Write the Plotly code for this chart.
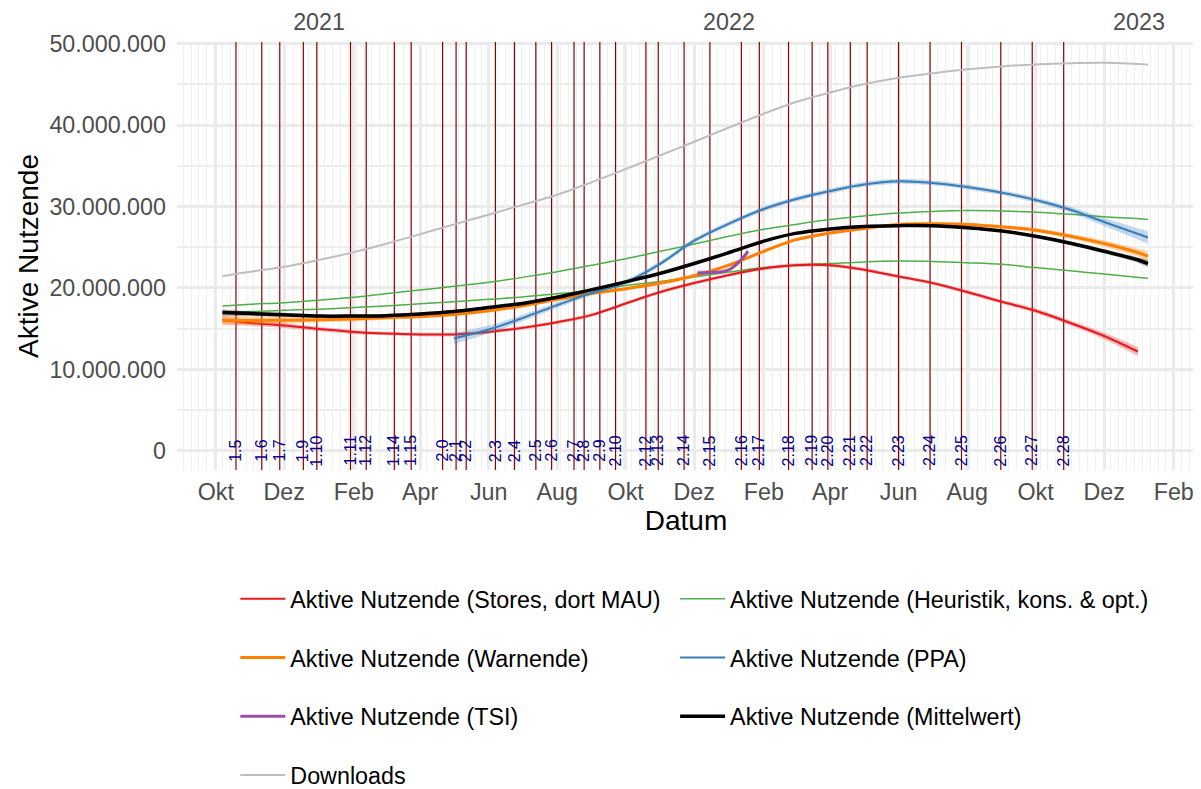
import plotly.graph_objects as go

# ---------------- data (values in millions) ----------------
dates = ["2020-10-07", "2020-11-01", "2020-12-01", "2021-01-01", "2021-02-01", "2021-03-01",
         "2021-04-01", "2021-05-01", "2021-06-01", "2021-07-01", "2021-08-01", "2021-09-01",
         "2021-10-01", "2021-11-01", "2021-12-01", "2022-01-01", "2022-02-01", "2022-03-01",
         "2022-04-01", "2022-05-01", "2022-06-01", "2022-07-01", "2022-08-01", "2022-09-01",
         "2022-10-01", "2022-11-01", "2022-12-01", "2023-01-01", "2023-01-09"]

downloads = [21.45, 22.0, 22.6, 23.45, 24.4, 25.4, 26.6, 27.8, 29.0, 30.2, 31.45, 33.0, 34.6, 36.3,
             37.95, 39.7, 41.4, 42.8, 44.0, 45.0, 45.8, 46.35, 46.85, 47.2, 47.45, 47.6, 47.65, 47.5, 47.4]

warnende = [16.0, 16.0, 16.05, 16.1, 16.2, 16.35, 16.5, 16.75, 17.2, 17.8, 18.6, 19.35, 19.9, 20.6,
            21.5, 22.8, 24.5, 25.9, 26.75, 27.3, 27.8, 27.9, 27.8, 27.5, 27.1, 26.35, 25.45, 24.3, 23.9]
warnende_se = [0.65, 0.5, 0.4, 0.32, 0.28, 0.25, 0.22, 0.2, 0.2, 0.2, 0.2, 0.2, 0.2, 0.2, 0.2, 0.2,
               0.2, 0.2, 0.2, 0.2, 0.2, 0.2, 0.2, 0.22, 0.25, 0.3, 0.38, 0.5, 0.6]

mittelwert = [17.0, 16.85, 16.7, 16.55, 16.55, 16.6, 16.8, 17.1, 17.6, 18.1, 18.85, 19.8, 20.75, 21.8,
              23.0, 24.35, 25.75, 26.7, 27.25, 27.55, 27.65, 27.65, 27.4, 27.0, 26.35, 25.5, 24.5, 23.4, 23.0]
mittelwert_se = [0.4, 0.3, 0.25, 0.2, 0.18, 0.15, 0.15, 0.15, 0.15, 0.15, 0.15, 0.15, 0.15, 0.15, 0.15,
                 0.15, 0.15, 0.15, 0.15, 0.15, 0.15, 0.15, 0.15, 0.15, 0.17, 0.2, 0.25, 0.35, 0.45]

heuristik_opt = [17.8, 18.0, 18.2, 18.5, 18.85, 19.3, 19.75, 20.2, 20.7, 21.3, 22.0, 22.8, 23.6, 24.5,
                 25.4, 26.35, 27.2, 27.8, 28.4, 28.85, 29.2, 29.4, 29.5, 29.45, 29.3, 29.05, 28.75, 28.5, 28.4]
heuristik_kons = [17.0, 17.1, 17.25, 17.4, 17.6, 17.8, 18.05, 18.3, 18.6, 18.9, 19.3, 19.7, 20.3, 20.8,
                  21.35, 21.95, 22.5, 22.8, 23.0, 23.2, 23.3, 23.25, 23.1, 22.9, 22.5, 22.1, 21.7, 21.3, 21.2]

stores_dates = dates[:27] + ["2022-12-31"]
stores = [16.1, 15.7, 15.4, 14.95, 14.6, 14.4, 14.3, 14.3, 14.6, 15.1, 15.8, 16.7, 18.1, 19.5, 20.6,
          21.6, 22.4, 22.8, 22.8, 22.25, 21.4, 20.6, 19.5, 18.3, 17.2, 15.7, 14.1, 12.2]
stores_se = [0.5, 0.35, 0.3, 0.25, 0.25, 0.22, 0.22, 0.22, 0.22, 0.22, 0.22, 0.22, 0.22, 0.22, 0.22,
             0.22, 0.22, 0.22, 0.22, 0.22, 0.22, 0.22, 0.25, 0.25, 0.28, 0.32, 0.4, 0.55]

ppa_dates = dates[7:]
ppa = [13.8, 14.9, 16.3, 17.9, 19.4, 20.7, 23.0, 25.8, 27.9, 29.7, 30.9, 31.9, 32.7, 33.1, 32.9, 32.4,
       31.7, 30.8, 29.6, 28.1, 26.6, 26.2]
ppa_se = [0.7, 0.5, 0.4, 0.35, 0.3, 0.3, 0.3, 0.3, 0.3, 0.3, 0.3, 0.3, 0.3, 0.3, 0.3, 0.3, 0.3, 0.32,
          0.38, 0.5, 0.7, 0.8]

tsi_dates = ["2021-12-04", "2021-12-15", "2021-12-26", "2022-01-02", "2022-01-06", "2022-01-12", "2022-01-18"]
tsi = [21.85, 21.9, 22.0, 22.3, 22.7, 23.5, 24.5]
tsi_se = [0.35, 0.25, 0.2, 0.2, 0.22, 0.3, 0.45]

versions = ["1.5", "1.6", "1.7", "1.9", "1.10", "1.11", "1.12", "1.14", "1.15", "2.0", "2.1", "2.2",
            "2.3", "2.4", "2.5", "2.6", "2.7", "2.8", "2.9", "2.10", "2.12", "2.13", "2.14", "2.15",
            "2.16", "2.17", "2.18", "2.19", "2.20", "2.21", "2.22", "2.23", "2.24", "2.25", "2.26",
            "2.27", "2.28"]
version_dates = ["2020-10-19", "2020-11-11", "2020-11-27", "2020-12-18", "2020-12-30", "2021-01-29",
                 "2021-02-12", "2021-03-09", "2021-03-24", "2021-04-21", "2021-05-03", "2021-05-12",
                 "2021-06-07", "2021-06-24", "2021-07-13", "2021-07-27", "2021-08-16", "2021-08-25",
                 "2021-09-08", "2021-09-22", "2021-10-19", "2021-10-30", "2021-11-22", "2021-12-15",
                 "2022-01-12", "2022-01-28", "2022-02-23", "2022-03-16", "2022-03-30", "2022-04-19",
                 "2022-05-04", "2022-06-01", "2022-06-29", "2022-07-27", "2022-08-31", "2022-09-28",
                 "2022-10-26"]

month_ticks = ["2020-10-01", "2020-12-01", "2021-02-01", "2021-04-01", "2021-06-01", "2021-08-01",
               "2021-10-01", "2021-12-01", "2022-02-01", "2022-04-01", "2022-06-01", "2022-08-01",
               "2022-10-01", "2022-12-01", "2023-02-01"]
month_labels = ["Okt", "Dez", "Feb", "Apr", "Jun", "Aug", "Okt", "Dez", "Feb", "Apr", "Jun", "Aug",
                "Okt", "Dez", "Feb"]
year_ticks = ["2021-01-01", "2022-01-01", "2023-01-01"]
year_labels = ["2021", "2022", "2023"]
y_ticks = [0, 10_000_000, 20_000_000, 30_000_000, 40_000_000, 50_000_000]

X_RANGE = ["2020-08-27 12:00", "2023-02-19 22:00"]
Y_RANGE = [-2.35e6, 50.2e6]
M = 1e6
FONT = "Liberation Sans, Arial, sans-serif"

RED, ORANGE, PURPLE, GREEN, BLUE, BLACK, GREY = "#E41A1C", "#FF7F00", "#984EA3", "#4DAF4A", "#377EB8", "#000000", "#BEBEBE"


def rgba(hexc, a):
    h = hexc.lstrip("#")
    return f"rgba({int(h[0:2], 16)},{int(h[2:4], 16)},{int(h[4:6], 16)},{a})"


fig = go.Figure()

# version release lines (full panel height, below the series)
vx, vy = [], []
for d in version_dates:
    vx += [d, d, None]
    vy += [Y_RANGE[0], Y_RANGE[1], None]
fig.add_trace(go.Scatter(x=vx, y=vy, mode="lines", line=dict(color="#8B0000", width=1.2),
                         showlegend=False, hoverinfo="skip"))


def ribbon(x, y, se, color):
    lo = [(v - s) * M for v, s in zip(y, se)]
    hi = [(v + s) * M for v, s in zip(y, se)]
    fig.add_trace(go.Scatter(x=x, y=lo, mode="lines", line=dict(width=0, shape="spline"),
                             showlegend=False, hoverinfo="skip"))
    fig.add_trace(go.Scatter(x=x, y=hi, mode="lines", line=dict(width=0, shape="spline"),
                             fill="tonexty", fillcolor=rgba(color, 0.3),
                             showlegend=False, hoverinfo="skip"))


def line(x, y, color, width, name, legend, group, rank, show=True):
    fig.add_trace(go.Scatter(x=x, y=[v * M for v in y], mode="lines", name=name,
                             line=dict(color=color, width=width, shape="spline"),
                             legend=legend, legendgroup=group, legendrank=rank, showlegend=show))


line(dates, downloads, GREY, 2, "Downloads", "legend", "dl", 4)
line(dates, heuristik_opt, GREEN, 1.5, "Aktive Nutzende (Heuristik, kons. &amp; opt.)", "legend2", "heu", 5)
line(dates, heuristik_kons, GREEN, 1.5, "Aktive Nutzende (Heuristik, kons. &amp; opt.)", "legend2", "heu", 5, show=False)
ribbon(stores_dates, stores, stores_se, RED)
line(stores_dates, stores, RED, 2, "Aktive Nutzende (Stores, dort MAU)", "legend", "st", 1)
ribbon(dates, warnende, warnende_se, ORANGE)
line(dates, warnende, ORANGE, 3, "Aktive Nutzende (Warnende)", "legend", "wa", 2)
ribbon(tsi_dates, tsi, tsi_se, PURPLE)
line(tsi_dates, tsi, PURPLE, 3, "Aktive Nutzende (TSI)", "legend", "tsi", 3)
ribbon(ppa_dates, ppa, ppa_se, BLUE)
line(ppa_dates, ppa, BLUE, 2, "Aktive Nutzende (PPA)", "legend2", "ppa", 6)
ribbon(dates, mittelwert, mittelwert_se, BLACK)
line(dates, mittelwert, BLACK, 3.5, "Aktive Nutzende (Mittelwert)", "legend2", "mw", 7)

# invisible trace so the top (year) axis is attached
fig.add_trace(go.Scatter(x=[year_ticks[0]], y=[None], xaxis="x2", showlegend=False, hoverinfo="skip"))

annotations = [dict(x=d, y=0, xref="x", yref="y", text=v, textangle=-90, showarrow=False,
                    xanchor="center", yanchor="middle",
                    font=dict(family=FONT, size=16, color="#00008B"))
               for d, v in zip(version_dates, versions)]

FS = 23.3
tickfont = dict(family=FONT, size=FS, color="#4D4D4D")
legend_common = dict(orientation="v", xanchor="left", yanchor="top", yref="container",
                     bgcolor="rgba(0,0,0,0)",
                     font=dict(family=FONT, size=FS, color="#000000"), tracegroupgap=25.5,
                     itemwidth=45, traceorder="grouped")

W, H = 1193, 800
LEG_TOP = 569  # px from top of figure
fig.update_layout(
    width=W, height=H,
    margin=dict(l=168.7, r=6, t=33.5, b=H - 462, autoexpand=False),
    paper_bgcolor="white", plot_bgcolor="white",
    font=dict(family=FONT),
    separators=",.",
    annotations=annotations,
    xaxis=dict(type="date", range=X_RANGE, tickmode="array", tickvals=month_ticks, ticktext=month_labels,
               tickfont=tickfont, showgrid=True, gridcolor="#EBEBEB", gridwidth=2.5,
               minor=dict(tick0="2020-10-07", dtick=7 * 86400000, showgrid=True, gridcolor="#EFEFEF", gridwidth=1.3),
               zeroline=False, showline=False, ticks="", ticklabelstandoff=6, automargin=False,
               title=dict(text="Datum", font=dict(family=FONT, size=28, color="#000000"), standoff=6)),
    xaxis2=dict(type="date", range=X_RANGE, overlaying="x", side="top", anchor="y",
                tickmode="array", tickvals=year_ticks, ticktext=year_labels, tickfont=tickfont,
                showgrid=False, zeroline=False, showline=False, ticks="", ticklabelstandoff=6,
                automargin=False),
    yaxis=dict(range=Y_RANGE, tickmode="array", tickvals=y_ticks, tickformat=",d", tickfont=tickfont,
               showgrid=True, gridcolor="#EBEBEB", gridwidth=2.5,
               minor=dict(tick0=0, dtick=5_000_000, showgrid=True, gridcolor="#EFEFEF", gridwidth=1.8),
               zeroline=False, showline=False, ticks="", ticklabelstandoff=10, automargin=False,
               title=dict(text="Aktive Nutzende", font=dict(family=FONT, size=28, color="#000000"), standoff=2)),
    legend=dict(x=0.0573, y=1 - LEG_TOP / H, **legend_common),
    legend2=dict(x=0.4893, y=1 - LEG_TOP / H, **legend_common),
    showlegend=True,
)

fig.write_html("out.html")
